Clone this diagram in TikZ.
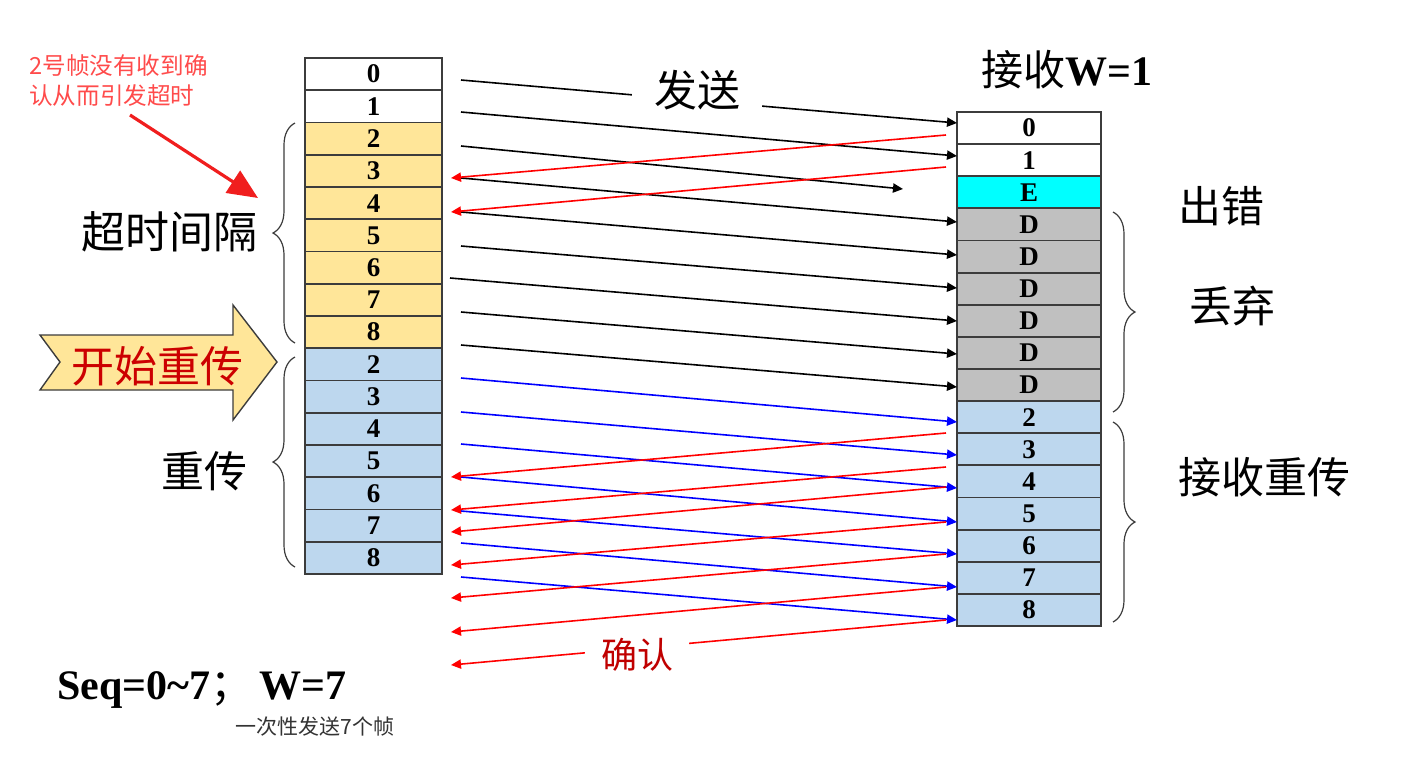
\documentclass[tikz,border=0pt]{standalone}
\usepackage{fontspec}
\setmainfont{Liberation Serif}
\newfontfamily\cjk{Noto Sans CJK SC}
\usetikzlibrary{arrows.meta,decorations.pathreplacing}
\definecolor{cyel}{RGB}{255,230,153}
\definecolor{cblu}{RGB}{189,215,238}
\definecolor{cgry}{RGB}{192,192,192}
\definecolor{ccyn}{RGB}{0,255,255}
\definecolor{lred}{RGB}{255,75,75}
\definecolor{ared}{RGB}{240,30,30}
\definecolor{dred}{RGB}{192,0,0}
\definecolor{tred}{RGB}{204,0,0}
\definecolor{bord}{RGB}{60,60,60}
\begin{document}
\begin{tikzpicture}[x=0.5pt,y=-0.5pt,
  cellbase/.style={draw=bord,line width=0.9pt,inner sep=0pt,outer sep=0pt,anchor=north west,
    font=\fontsize{13.5}{13.5}\selectfont\bfseries},
  lcell/.style={cellbase,minimum width=68.5pt,minimum height=16.125pt},
  rcell/.style={cellbase,minimum width=72pt,minimum height=16.06pt},
  tipsty/.style={-{Triangle[length=5pt,width=4.6pt]}},
  snd/.style={tipsty,line width=0.8pt,black},
  rsnd/.style={tipsty,line width=0.8pt,blue},
  ack/.style={tipsty,line width=0.8pt,red},
  bigcjk/.style={font=\cjk\fontsize{21.5}{21.5}\selectfont},
  brc/.style={draw=bord,line width=0.6pt,decorate,decoration={brace,amplitude=11pt}}]
\useasboundingbox (0,0) rectangle (1415,756);

% sender column
\foreach \t/\c [count=\i from 0] in {0/white,1/white,2/cyel,3/cyel,4/cyel,5/cyel,6/cyel,7/cyel,8/cyel,2/cblu,3/cblu,4/cblu,5/cblu,6/cblu,7/cblu,8/cblu}
  \node[lcell,fill=\c] (L\i) at (305,{58+32.25*\i}) {\t};

% receiver column
\foreach \t/\c [count=\i from 0] in {0/white,1/white,E/ccyn,D/cgry,D/cgry,D/cgry,D/cgry,D/cgry,D/cgry,2/cblu,3/cblu,4/cblu,5/cblu,6/cblu,7/cblu,8/cblu}
  \node[rcell,fill=\c] (R\i) at (957,{112+32.125*\i}) {\t};

% first transmission (black)
\foreach \k/\xa/\ya/\xb/\yb in {1/461/80/957/123,2/461/112/957/156,3/461/146/903/189,4/461/178/957/222,5/461/212/957/255,6/461/246/957/288,7/450/278/957/321,8/461/312/957/354,9/461/345/957/387}{
  \coordinate (bs\k) at (\xa,\ya);
  \coordinate (be\k) at (\xb,\yb);
  \draw[snd] (bs\k) -- (be\k);
}
\node[fill=white,inner xsep=11pt,inner ysep=2pt,bigcjk] (send) at (697,90) {发送};

% retransmission (blue)
\foreach \k/\ya/\yb in {1/378/422,2/412/455,3/444/488,4/477/522,5/511/554,6/543/587,7/577/620}{
  \coordinate (us\k) at (461,\ya);
  \coordinate (ue\k) at (957,\yb);
  \draw[rsnd] (us\k) -- (ue\k);
}

% acknowledgements (red)
\foreach \k/\ya/\yb in {1/135/178,2/167/212,3/433/477,4/467/510,5/487/532,6/522/565,7/554/598,8/587/632,9/620/665}{
  \coordinate (as\k) at (946,\ya);
  \coordinate (ae\k) at (451,\yb);
  \draw[ack] (as\k) -- (ae\k);
}
\node[fill=white,inner xsep=8pt,inner ysep=1pt,text=dred,font=\cjk\fontsize{18}{18}\selectfont] (ackl) at (637,655) {确认};

% braces
\coordinate (b1a) at (295,343); \coordinate (b1b) at (295,123);
\draw[brc] (b1a) -- (b1b);
\coordinate (b2a) at (295,567); \coordinate (b2b) at (295,357);
\draw[brc] (b2a) -- (b2b);
\coordinate (b3a) at (1113,212); \coordinate (b3b) at (1113,412);
\draw[brc] (b3a) -- (b3b);
\coordinate (b4a) at (1113,422); \coordinate (b4b) at (1113,622);
\draw[brc] (b4a) -- (b4b);

% labels
\node[bigcjk,font=\cjk\fontsize{22}{22}\selectfont] (tmo) at (170,232) {超时间隔};
\node[bigcjk] (ret) at (204,471) {重传};
\node[bigcjk] (err) at (1221,206) {出错};
\node[bigcjk] (drop) at (1232,306) {丢弃};
\node[bigcjk] (rret) at (1264,477) {接收重传};
\node[font=\fontsize{21}{21}\selectfont] (rw) at (1067,70) {{\cjk 接收}\textbf{W=1}};

% start retransmission arrow
\draw[fill=cyel,draw=bord,line width=0.7pt] (40,335) -- (233,335) -- (233,305) -- (277,362) -- (233,420) -- (233,390) -- (40,390) -- (60,362) -- cycle;
\node[bigcjk,text=tred] (startl) at (157,366) {开始重传};

% annotation
\node[anchor=north west,align=left,text=lred,inner sep=0pt,font=\cjk\fontsize{11.8}{15}\selectfont] (note) at (29,54) {2号帧没有收到确\\认从而引发超时};
\coordinate (na) at (130,115);
\coordinate (nb) at (258,198);
\draw[ared,line width=1.6pt,-{Triangle[length=15pt,width=13pt]}] (na) -- (nb);

% bottom
\node[font=\fontsize{21}{21}\selectfont\bfseries] (seq) at (202,690) {Seq=0\textasciitilde 7{\cjk\mdseries ；}\,W=7};
\node[font=\cjk\fontsize{10.5}{10.5}\selectfont,text=black!80] (once) at (315,727) {一次性发送7个帧};
\end{tikzpicture}
\end{document}
